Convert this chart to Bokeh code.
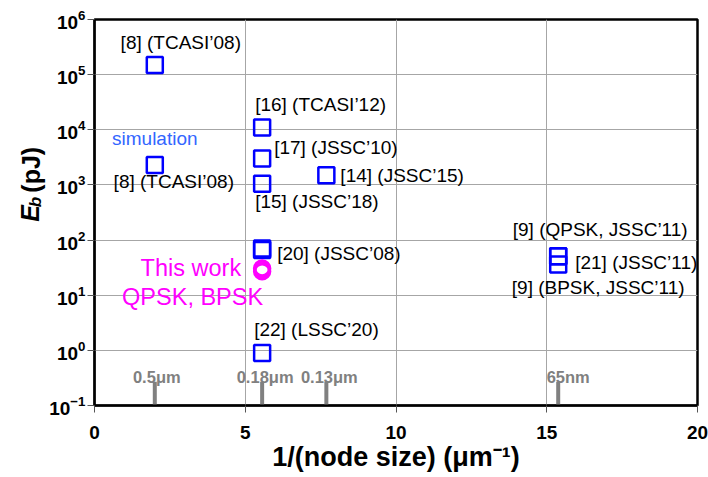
import math
from bokeh.plotting import figure
from bokeh.layouts import row
from bokeh.models import FixedTicker, LogTickFormatter, ColumnDataSource, Range1d
from bokeh.core.properties import value
from bokeh.embed import file_html
from bokeh.resources import INLINE

# ---------------- data ----------------
ref_x = [2.0, 2.0, 5.56, 5.56, 5.56, 7.69, 5.56, 5.56, 5.56, 15.38, 15.38, 15.38]
ref_eb = [1.5e5, 2.3e3, 1.1e4, 3.0e3, 1.05e3, 1.5e3, 66, 70, 0.9, 51, 51, 36]

work_x = [5.56, 5.56]
work_eb = [30.6, 27.3]

node_names = ["0.5\u03bcm", "0.18\u03bcm", "0.13\u03bcm", "65nm"]
node_x = [2.0, 5.56, 7.69, 15.38]
node_bar_top = [0.27, 0.27, 0.27, 0.27]

x_ticks = [0, 5, 10, 15, 20]
y_ticks = [1e-1, 1e0, 1e1, 1e2, 1e3, 1e4, 1e5, 1e6]

# annotation texts (anchored on data points, offsets in pixels)
ann_text = ["[8] (TCASI\u201908)", "simulation", "[8] (TCASI\u201908)", "[16] (TCASI\u201912)",
            "[17] (JSSC\u201910)", "[14] (JSSC\u201915)", "[15] (JSSC\u201918)", "[20] (JSSC\u201908)",
            "[22] (LSSC\u201920)", "[9] (QPSK, JSSC\u201911)", "[21] (JSSC\u201911)", "[9] (BPSK, JSSC\u201911)"]
ann_x = [2.0, 2.0, 2.0, 5.56, 5.56, 7.69, 5.56, 5.56, 5.56, 15.38, 15.38, 15.38]
ann_y = [1.5e5, 2.3e3, 2.3e3, 1.1e4, 3.0e3, 1.5e3, 1.05e3, 70, 0.9, 51, 51, 36]
ann_dx = [26, 0, 19, -7, 12, 14, -7, 15, -8, 42, 17, 40]
ann_dy = [-22, -26, 17, -23, -11, 0, 18, 5, -23, -27, 6, 23]
ann_align = ["center", "center", "center", "left", "left", "left", "left", "left", "left", "center", "left", "center"]
ann_color = ["black", "#3366ff", "black", "black", "black", "black", "black", "black", "black", "black", "black", "black"]

FONT = "Liberation Sans"
LEFT_W = 46

p = figure(width=708 - LEFT_W, height=477, output_backend="svg", toolbar_location=None,
           y_axis_type="log", x_range=Range1d(0, 20), y_range=Range1d(0.1, 1e6),
           min_border_left=93 - LEFT_W, min_border_right=11, min_border_top=19, min_border_bottom=72)
p.background_fill_color = "white"
p.border_fill_color = "white"
p.outline_line_color = "black"
p.outline_line_width = 2.5

# axes
p.xaxis.ticker = FixedTicker(ticks=x_ticks)
p.yaxis.ticker = FixedTicker(ticks=y_ticks)
p.yaxis.formatter = LogTickFormatter()
for ax in (p.xaxis, p.yaxis):
    ax.major_label_text_font = FONT
    ax.major_label_text_font_style = "bold"
    ax.major_label_text_color = "black"
    ax.major_tick_in = 0
    ax.major_tick_out = 7
    ax.minor_tick_in = 0
    ax.minor_tick_out = 0
    ax.major_tick_line_color = "#555555"
    ax.axis_line_color = "black"
    ax.axis_line_width = 2
p.xaxis.major_label_text_font_size = "19px"
p.yaxis.major_label_text_font_size = "19px"
p.xaxis.major_label_standoff = 13
p.yaxis.major_label_standoff = 2

p.xaxis.axis_label = "1/(node size) (\u03bcm\u207b\u00b9)"
p.xaxis.axis_label_text_font = FONT
p.xaxis.axis_label_text_font_style = "bold"
p.xaxis.axis_label_text_font_size = "27px"
p.xaxis.axis_label_text_color = "black"
p.xaxis.axis_label_standoff = 0

p.xgrid.grid_line_color = "#a6a6a6"
p.ygrid.grid_line_color = "#a6a6a6"
p.xgrid.grid_line_width = 1
p.ygrid.grid_line_width = 1

# node size bars
p.segment(x0=node_x, y0=[0.1] * len(node_x), x1=node_x, y1=node_bar_top,
          line_color="#808080", line_width=4, line_cap="butt")
p.text(x=node_x, y=node_bar_top, text=node_names, x_offset=[2, 3, 3, 10], y_offset=-5,
       text_align="center", text_baseline="middle", text_font=value(FONT),
       text_font_style="bold", text_font_size="16.5px", text_color="#808080")

# reference squares
p.scatter(ref_x, ref_eb, marker="square", size=16, fill_color=None,
          line_color="#0000ff", line_width=2.5)
# this work circles
p.scatter(work_x, work_eb, marker="circle", size=15, fill_color=None,
          line_color="#ff00ff", line_width=3.5)

# annotations
src = ColumnDataSource(dict(x=ann_x, y=ann_y, text=ann_text, dx=ann_dx, dy=ann_dy,
                            align=ann_align, color=ann_color))
p.text(x="x", y="y", text="text", x_offset="dx", y_offset="dy", text_align="align",
       text_color="color", text_baseline="middle", text_font=value(FONT),
       text_font_size="19px", source=src)

p.text(x=[work_x[0]], y=[work_eb[0]], text=["This work"], x_offset=-21, y_offset=0,
       text_align="right", text_baseline="middle", text_font=value(FONT),
       text_font_size="23.5px", text_color="#ff00ff")
p.text(x=[work_x[0]], y=[work_eb[0]], text=["QPSK, BPSK"], x_offset=1, y_offset=29,
       text_align="right", text_baseline="middle", text_font=value(FONT),
       text_font_size="23.5px", text_color="#ff00ff")

# left strip holding the y-axis title (E italic, subscript b, (pJ))
t = figure(width=LEFT_W, height=477, output_backend="svg", toolbar_location=None,
           x_range=Range1d(0, LEFT_W), y_range=Range1d(0, 477),
           x_axis_location=None, y_axis_location=None, min_border=0)
t.outline_line_color = None
t.grid.visible = False
t.background_fill_color = "white"
t.border_fill_color = "white"
for txt, px, py, size, style in [("E", 29, 250, "25px", "bold italic"),
                                 ("b", 35, 232, "17px", "bold italic"),
                                 ("(pJ)", 30, 214, "25px", "bold")]:
    t.text(x=[px], y=[477 - py], text=[txt], angle=math.pi / 2,
           text_align="left", text_baseline="middle", text_font=value(FONT),
           text_font_size=size, text_font_style=style, text_color="black")

layout = row(t, p, spacing=0)
open("out.html", "w").write(file_html(layout, INLINE))
